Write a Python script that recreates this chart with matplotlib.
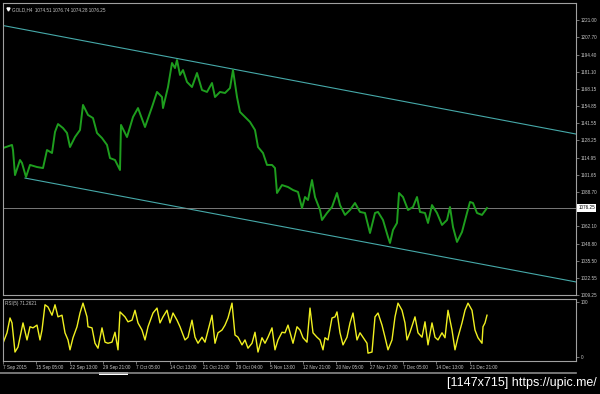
import matplotlib.pyplot as plt
from matplotlib.lines import Line2D
from matplotlib.patches import Rectangle
import matplotlib.transforms as mtransforms

plt.rcParams['font.family'] = ['Liberation Sans', 'DejaVu Sans']

# GOLD H4 price path (bar index, price)
price_bar = [3, 12, 13, 15, 20, 22, 26, 30, 37, 43, 47, 52, 55, 58, 63, 67, 70, 75, 80, 83,
             88, 93, 97, 102, 107, 110, 115, 120, 121, 127, 133, 138, 145, 152, 157, 162, 163,
             168, 172, 175, 177, 180, 183, 187, 192, 197, 202, 207, 212, 215, 220, 225, 230,
             233, 237, 240, 243, 250, 255, 258, 263, 267, 272, 275, 277, 282, 288, 293, 298,
             302, 305, 308, 312, 315, 320, 322, 327, 332, 337, 340, 345, 350, 355, 360, 365,
             370, 375, 378, 383, 388, 390, 393, 397, 399, 403, 408, 413, 417, 420, 425, 428,
             432, 437, 442, 447, 450, 453, 457, 462, 467, 470, 473, 477, 482, 487]
price_close = [1122.4, 1124.8, 1120.9, 1101.6, 1113.2, 1110.9, 1100.1, 1109.4, 1107.8, 1107.0,
               1120.9, 1118.6, 1134.8, 1140.9, 1137.8, 1134.0, 1123.2, 1130.9, 1136.3, 1155.6,
               1147.9, 1145.5, 1134.0, 1130.1, 1124.8, 1114.7, 1113.2, 1105.5, 1140.2, 1130.9,
               1146.3, 1153.2, 1138.6, 1154.0, 1165.6, 1161.7, 1153.2, 1169.4, 1187.9, 1184.0,
               1190.2, 1178.7, 1182.5, 1173.3, 1169.4, 1180.2, 1167.1, 1165.6, 1172.5, 1161.7,
               1165.6, 1164.8, 1168.6, 1182.5, 1161.7, 1150.2, 1147.9, 1142.5, 1136.3, 1123.2,
               1118.6, 1109.4, 1109.4, 1107.0, 1087.8, 1093.9, 1092.4, 1090.1, 1088.6, 1076.2,
               1084.7, 1082.4, 1097.8, 1084.7, 1074.7, 1067.0, 1072.4, 1077.0, 1087.8, 1078.5,
               1070.9, 1074.7, 1080.1, 1073.2, 1072.4, 1057.0, 1072.4, 1073.2, 1067.0, 1053.9,
               1049.3, 1059.3, 1064.7, 1087.8, 1084.7, 1074.7, 1077.0, 1084.7, 1073.2, 1072.4,
               1064.7, 1078.5, 1072.4, 1063.2, 1067.0, 1077.0, 1061.6, 1050.1, 1057.8, 1072.4,
               1080.9, 1080.1, 1072.4, 1070.9, 1076.2]

# RSI(5)
rsi_bar = [3, 7, 10, 12, 15, 18, 23, 27, 30, 33, 37, 40, 42, 45, 48, 52, 55, 58, 62, 65, 68,
           70, 73, 77, 80, 83, 87, 88, 92, 95, 98, 102, 105, 108, 112, 115, 118, 120, 125, 128,
           132, 135, 138, 142, 145, 148, 153, 157, 160, 163, 167, 170, 173, 177, 180, 185, 188,
           192, 195, 198, 202, 205, 210, 212, 215, 218, 222, 225, 228, 232, 235, 238, 242, 245,
           248, 252, 255, 258, 262, 265, 268, 272, 275, 278, 282, 285, 288, 293, 297, 300, 303,
           307, 310, 313, 317, 320, 323, 325, 328, 332, 335, 337, 340, 343, 347, 350, 353, 357,
           360, 363, 367, 368, 372, 375, 378, 382, 385, 388, 392, 395, 398, 402, 405, 407, 410,
           415, 418, 422, 425, 428, 432, 435, 438, 442, 445, 448, 452, 455, 458, 462, 465, 468,
           472, 475, 478, 482, 483, 485, 487]
rsi_val = [25, 44, 71, 62, 9, 18, 62, 31, 55, 53, 58, 31, 49, 95, 91, 76, 95, 73, 76, 44, 31,
           13, 35, 55, 80, 98, 73, 55, 53, 25, 16, 53, 27, 25, 27, 45, 13, 82, 73, 64,
           67, 85, 62, 49, 31, 55, 80, 89, 62, 73, 85, 62, 80, 67, 55, 31, 36,
           67, 36, 25, 36, 27, 62, 76, 25, 44, 49, 58, 71, 98, 40, 36, 22, 31,
           16, 25, 45, 9, 35, 25, 36, 53, 13, 31, 45, 44, 58, 25, 55, 49, 35,
           27, 89, 44, 36, 31, 13, 35, 31, 71, 73, 82, 44, 22, 36, 62, 80, 31,
           44, 36, 25, 7, 9, 73, 80, 58, 36, 13, 31, 73, 98, 85, 62, 31, 45,
           73, 44, 36, 64, 22, 62, 36, 31, 44, 35, 85, 49, 13, 36, 62, 85, 98,
           85, 49, 35, 25, 55, 62, 76]

# channel lines
upper_bar = [0, 576]
upper_price = [1217.2, 1133.2]
lower_bar = [25, 576]
lower_price = [1099.3, 1019.3]

price_ticks = [1221.00, 1207.70, 1194.40, 1181.10, 1168.15, 1154.85, 1141.55, 1128.25,
               1114.95, 1101.65, 1088.70, 1062.10, 1048.80, 1035.50, 1022.55, 1009.25]
last_price = 1076.25

date_bar = [3, 36, 70, 103, 136, 170, 203, 236, 270, 303, 336, 370, 403, 436, 470]
date_labels = ['7 Sep 2015', '15 Sep 05:00', '22 Sep 13:00', '29 Sep 21:00', '7 Oct 05:00',
               '14 Oct 13:00', '21 Oct 21:00', '29 Oct 04:00', '5 Nov 13:00', '12 Nov 21:00',
               '20 Nov 05:00', '27 Nov 17:00', '7 Dec 05:00', '14 Dec 13:00', '21 Dec 21:00']

fg = '#c8c8c8'
frame = '#a0a0a0'
fs = 3.3

fig = plt.figure(figsize=(6.0, 3.94), dpi=100, facecolor='black')
ax = fig.add_axes([3 / 600, 1 - 295 / 394, 573 / 600, 292 / 394], facecolor='black')
ax2 = fig.add_axes([3 / 600, 1 - 361 / 394, 573 / 600, 62 / 394], facecolor='black')

for a in (ax, ax2):
    for s in a.spines.values():
        s.set_color(frame)
        s.set_linewidth(0.8)
    a.set_xlim(3, 576)
    a.yaxis.tick_right()
    a.tick_params(axis='y', colors=frame, labelcolor=fg, labelsize=fs, length=2, width=0.5, pad=1.5)

# main price panel
ax.plot(upper_bar, upper_price, color='#46a9a9', lw=0.8)
ax.plot(lower_bar, lower_price, color='#46a9a9', lw=0.8)
ax.axhline(last_price, color='#8c8c8c', lw=0.6)
ax.plot(price_bar, price_close, color='#1e9e1e', lw=1.4)
ax.set_ylim(1009.25, 1234.1)
ax.set_yticks(price_ticks)
ax.set_yticklabels(['%.2f' % p for p in price_ticks])
ax.set_xticks([])
trans = mtransforms.blended_transform_factory(ax.transAxes, ax.transData)
ax.text(1.004, last_price, '%.2f' % last_price, transform=trans, fontsize=fs, color='black',
        va='center', ha='left', bbox=dict(boxstyle='square,pad=0.3', fc='white', ec='none'))
ax.text(0.016, 0.985, 'GOLD,H4  1074.51 1076.74 1074.28 1076.25', transform=ax.transAxes,
        fontsize=fs, color=fg, va='top', ha='left')
ax.plot([0.008], [0.979], marker='v', ms=2.2, color='white', transform=ax.transAxes, clip_on=False)

# RSI panel
ax2.plot(rsi_bar, rsi_val, color='#f0f020', lw=1.0)
ax2.set_ylim(-7.3, 105.5)
ax2.set_yticks([100, 0])
ax2.set_yticklabels(['100', '0'])
ax2.text(0.004, 0.96, 'RSI(5) 71.2621', transform=ax2.transAxes, fontsize=fs, color=fg,
         va='top', ha='left')
ax2.set_xticks(date_bar)
ax2.set_xticklabels(date_labels, ha='left')
ax2.tick_params(axis='x', colors=frame, labelcolor=fg, labelsize=fs, length=2, width=0.5,
                pad=1.2, direction='out')

# scroll bar and watermark
fig.add_artist(Line2D([0, 576 / 600], [1 - 373 / 394] * 2, color='#8a8a8a', lw=1.2))
fig.add_artist(Rectangle((99 / 600, 1 - 374.5 / 394), 29 / 600, 3 / 394, color='white', lw=0))
fig.text(597 / 600, 1 - 383 / 394, '[1147x715] https://upic.me/', color='white', fontsize=9,
         ha='right', va='center')

fig.savefig('out.png', dpi=100, facecolor='black')
